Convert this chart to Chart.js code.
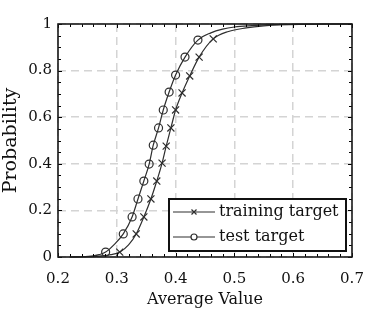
<!DOCTYPE html>
<html>
<head>
<meta charset="utf-8">
<script src="https://cdn.jsdelivr.net/npm/chart.js@4.4.1/dist/chart.umd.min.js"></script>
<style>
html,body{margin:0;padding:0;background:#fff;}
#wrap{width:390px;height:312px;}
</style>
</head>
<body>
<div id="wrap"><canvas id="c" width="390" height="312"></canvas></div>
<script>
// ---- data ----
const seriesNames = ["training target", "test target"];
const trainX = [0.22, 0.25, 0.27, 0.29, 0.305, 0.32, 0.333, 0.346, 0.358, 0.368, 0.377, 0.384, 0.392, 0.400, 0.411, 0.424, 0.440, 0.464, 0.49, 0.52, 0.55, 0.58, 0.62, 0.66, 0.70];
const trainY = [0.000, 0.001, 0.004, 0.010, 0.021, 0.052, 0.099, 0.172, 0.249, 0.326, 0.403, 0.476, 0.554, 0.631, 0.704, 0.777, 0.858, 0.936, 0.968, 0.983, 0.992, 0.997, 0.999, 1.000, 1.000];
const trainMarkers = [4, 6, 7, 8, 9, 10, 11, 12, 13, 14, 15, 16, 17];
const testX = [0.22, 0.24, 0.26, 0.27, 0.281, 0.295, 0.311, 0.326, 0.336, 0.346, 0.355, 0.362, 0.371, 0.379, 0.389, 0.400, 0.416, 0.438, 0.46, 0.48, 0.50, 0.53, 0.56, 0.60, 0.65, 0.70];
const testY = [0.000, 0.001, 0.005, 0.010, 0.021, 0.052, 0.099, 0.172, 0.249, 0.326, 0.399, 0.480, 0.554, 0.631, 0.708, 0.781, 0.858, 0.931, 0.962, 0.978, 0.987, 0.993, 0.997, 0.999, 1.000, 1.000];
const testMarkers = [4, 6, 7, 8, 9, 10, 11, 12, 13, 14, 15, 16, 17];
const xTickValues = [0.2, 0.3, 0.4, 0.5, 0.6, 0.7];
const yTickValues = [0, 0.2, 0.4, 0.6, 0.8, 1];
const xTitle = "Average Value";
const yTitle = "Probability";

// ---- styling ----
const LINE = '#2e2e2e';
const FONT = '"DejaVu Serif", serif';

function toPts(xs, ys){ return xs.map((x,i)=>({x:x, y:ys[i]})); }

const framePlugin = {
  id: 'frame',
  afterDraw(chart){
    const ctx = chart.ctx, a = chart.chartArea;
    const xs = chart.scales.x, ys = chart.scales.y;
    ctx.save();
    ctx.strokeStyle = '#000';
    ctx.lineWidth = 1;
    const xmin = xs.min, xmax = xs.max, ymin = ys.min, ymax = ys.max;
    ctx.beginPath();
    for (let v = xmin; v <= xmax + 1e-9; v += 0.02) {
      const p = Math.round(xs.getPixelForValue(v)) + 0.5;
      const major = Math.abs(v*10 - Math.round(v*10)) < 1e-6;
      const L = major ? 4 : 3;
      ctx.moveTo(p, a.bottom); ctx.lineTo(p, a.bottom - L);
      ctx.moveTo(p, a.top); ctx.lineTo(p, a.top + L);
    }
    for (let v = ymin; v <= ymax + 1e-9; v += 0.05) {
      const p = Math.round(ys.getPixelForValue(v)) + 0.5;
      const major = Math.abs(v*5 - Math.round(v*5)) < 1e-6;
      const L = major ? 4 : 3;
      ctx.moveTo(a.left, p); ctx.lineTo(a.left + L, p);
      ctx.moveTo(a.right, p); ctx.lineTo(a.right - L, p);
    }
    ctx.stroke();
    ctx.lineWidth = 1.6;
    ctx.strokeStyle = '#1a1a1a';
    ctx.strokeRect(a.left, a.top, a.right - a.left, a.bottom - a.top);

    // legend
    const bx = 169, by = 199, bw = 177, bh = 52;
    ctx.fillStyle = '#fff';
    ctx.fillRect(bx, by, bw, bh);
    ctx.lineWidth = 2;
    ctx.strokeStyle = '#111';
    ctx.strokeRect(bx, by, bw, bh);
    const rows = [by + 13, by + 38];
    ctx.font = '16px ' + FONT;
    ctx.textBaseline = 'middle';
    ctx.textAlign = 'left';
    rows.forEach((ry, i) => {
      ctx.strokeStyle = LINE;
      ctx.lineWidth = 1.2;
      ctx.beginPath();
      ctx.moveTo(bx + 4, ry); ctx.lineTo(bx + 46, ry);
      ctx.stroke();
      const cx = bx + 25;
      ctx.beginPath();
      if (i === 0) {
        ctx.moveTo(cx-2.5, ry-2.5); ctx.lineTo(cx+2.5, ry+2.5);
        ctx.moveTo(cx-2.5, ry+2.5); ctx.lineTo(cx+2.5, ry-2.5);
      } else {
        ctx.arc(cx, ry, 3, 0, Math.PI*2);
        ctx.fillStyle = '#fff';
        ctx.fill();
      }
      ctx.stroke();
      ctx.fillStyle = '#111';
      ctx.fillText(seriesNames[i], bx + 50, ry);
    });
    ctx.restore();
  }
};

const markerRadius = (idx, r) => (c) => idx.includes(c.dataIndex) ? r : 0;

new Chart(document.getElementById('c'), {
  type: 'scatter',
  data: {
    datasets: [
      {
        label: seriesNames[0],
        data: toPts(trainX, trainY),
        showLine: true,
        borderColor: LINE,
        borderWidth: 1.2,
        cubicInterpolationMode: 'monotone',
        pointStyle: 'crossRot',
        pointRadius: markerRadius(trainMarkers, 5),
        pointBorderColor: LINE,
        pointBorderWidth: 1.2,
        pointBackgroundColor: 'rgba(0,0,0,0)'
      },
      {
        label: seriesNames[1],
        data: toPts(testX, testY),
        showLine: true,
        borderColor: LINE,
        borderWidth: 1.2,
        cubicInterpolationMode: 'monotone',
        pointStyle: 'circle',
        pointRadius: markerRadius(testMarkers, 4),
        pointBorderColor: LINE,
        pointBorderWidth: 1.2,
        pointBackgroundColor: 'rgba(0,0,0,0)'
      }
    ]
  },
  options: {
    responsive: false,
    animation: false,
    devicePixelRatio: 1,
    clip: false,
    layout: { padding: { top: 24, right: 38, left: 0, bottom: 0 } },
    plugins: { legend: { display: false }, tooltip: { enabled: false } },
    scales: {
      x: {
        type: 'linear',
        min: 0.2, max: 0.7,
        afterBuildTicks: (s) => { s.ticks = xTickValues.map(v => ({ value: v })); },
        afterFit: (s) => { s.height = 55; },
        grid: { color: '#d4d4d4', lineWidth: 1.5, drawTicks: false },
        border: { display: false, dash: [8, 5] },
        ticks: {
          padding: 13,
          color: '#111',
          font: { family: FONT, size: 15 },
          callback: (v) => String(+v.toFixed(1)),
          maxRotation: 0, autoSkip: false
        },
        title: { display: true, text: xTitle, color: '#111', font: { family: FONT, size: 16 }, padding: { top: 0, bottom: 3 } }
      },
      y: {
        type: 'linear',
        min: 0, max: 1,
        afterBuildTicks: (s) => { s.ticks = yTickValues.map(v => ({ value: v })); },
        afterFit: (s) => { s.width = 58; },
        grid: { color: '#d4d4d4', lineWidth: 1.5, drawTicks: false },
        border: { display: false, dash: [8, 5] },
        ticks: {
          padding: 6,
          color: '#111',
          font: { family: FONT, size: 15 },
          callback: (v) => String(+v.toFixed(1)),
          autoSkip: false
        },
        title: { display: true, text: yTitle, color: '#111', font: { family: FONT, size: 19 }, padding: { top: 0, bottom: 0 } }
      }
    }
  },
  plugins: [framePlugin]
});
</script>
</body>
</html>
